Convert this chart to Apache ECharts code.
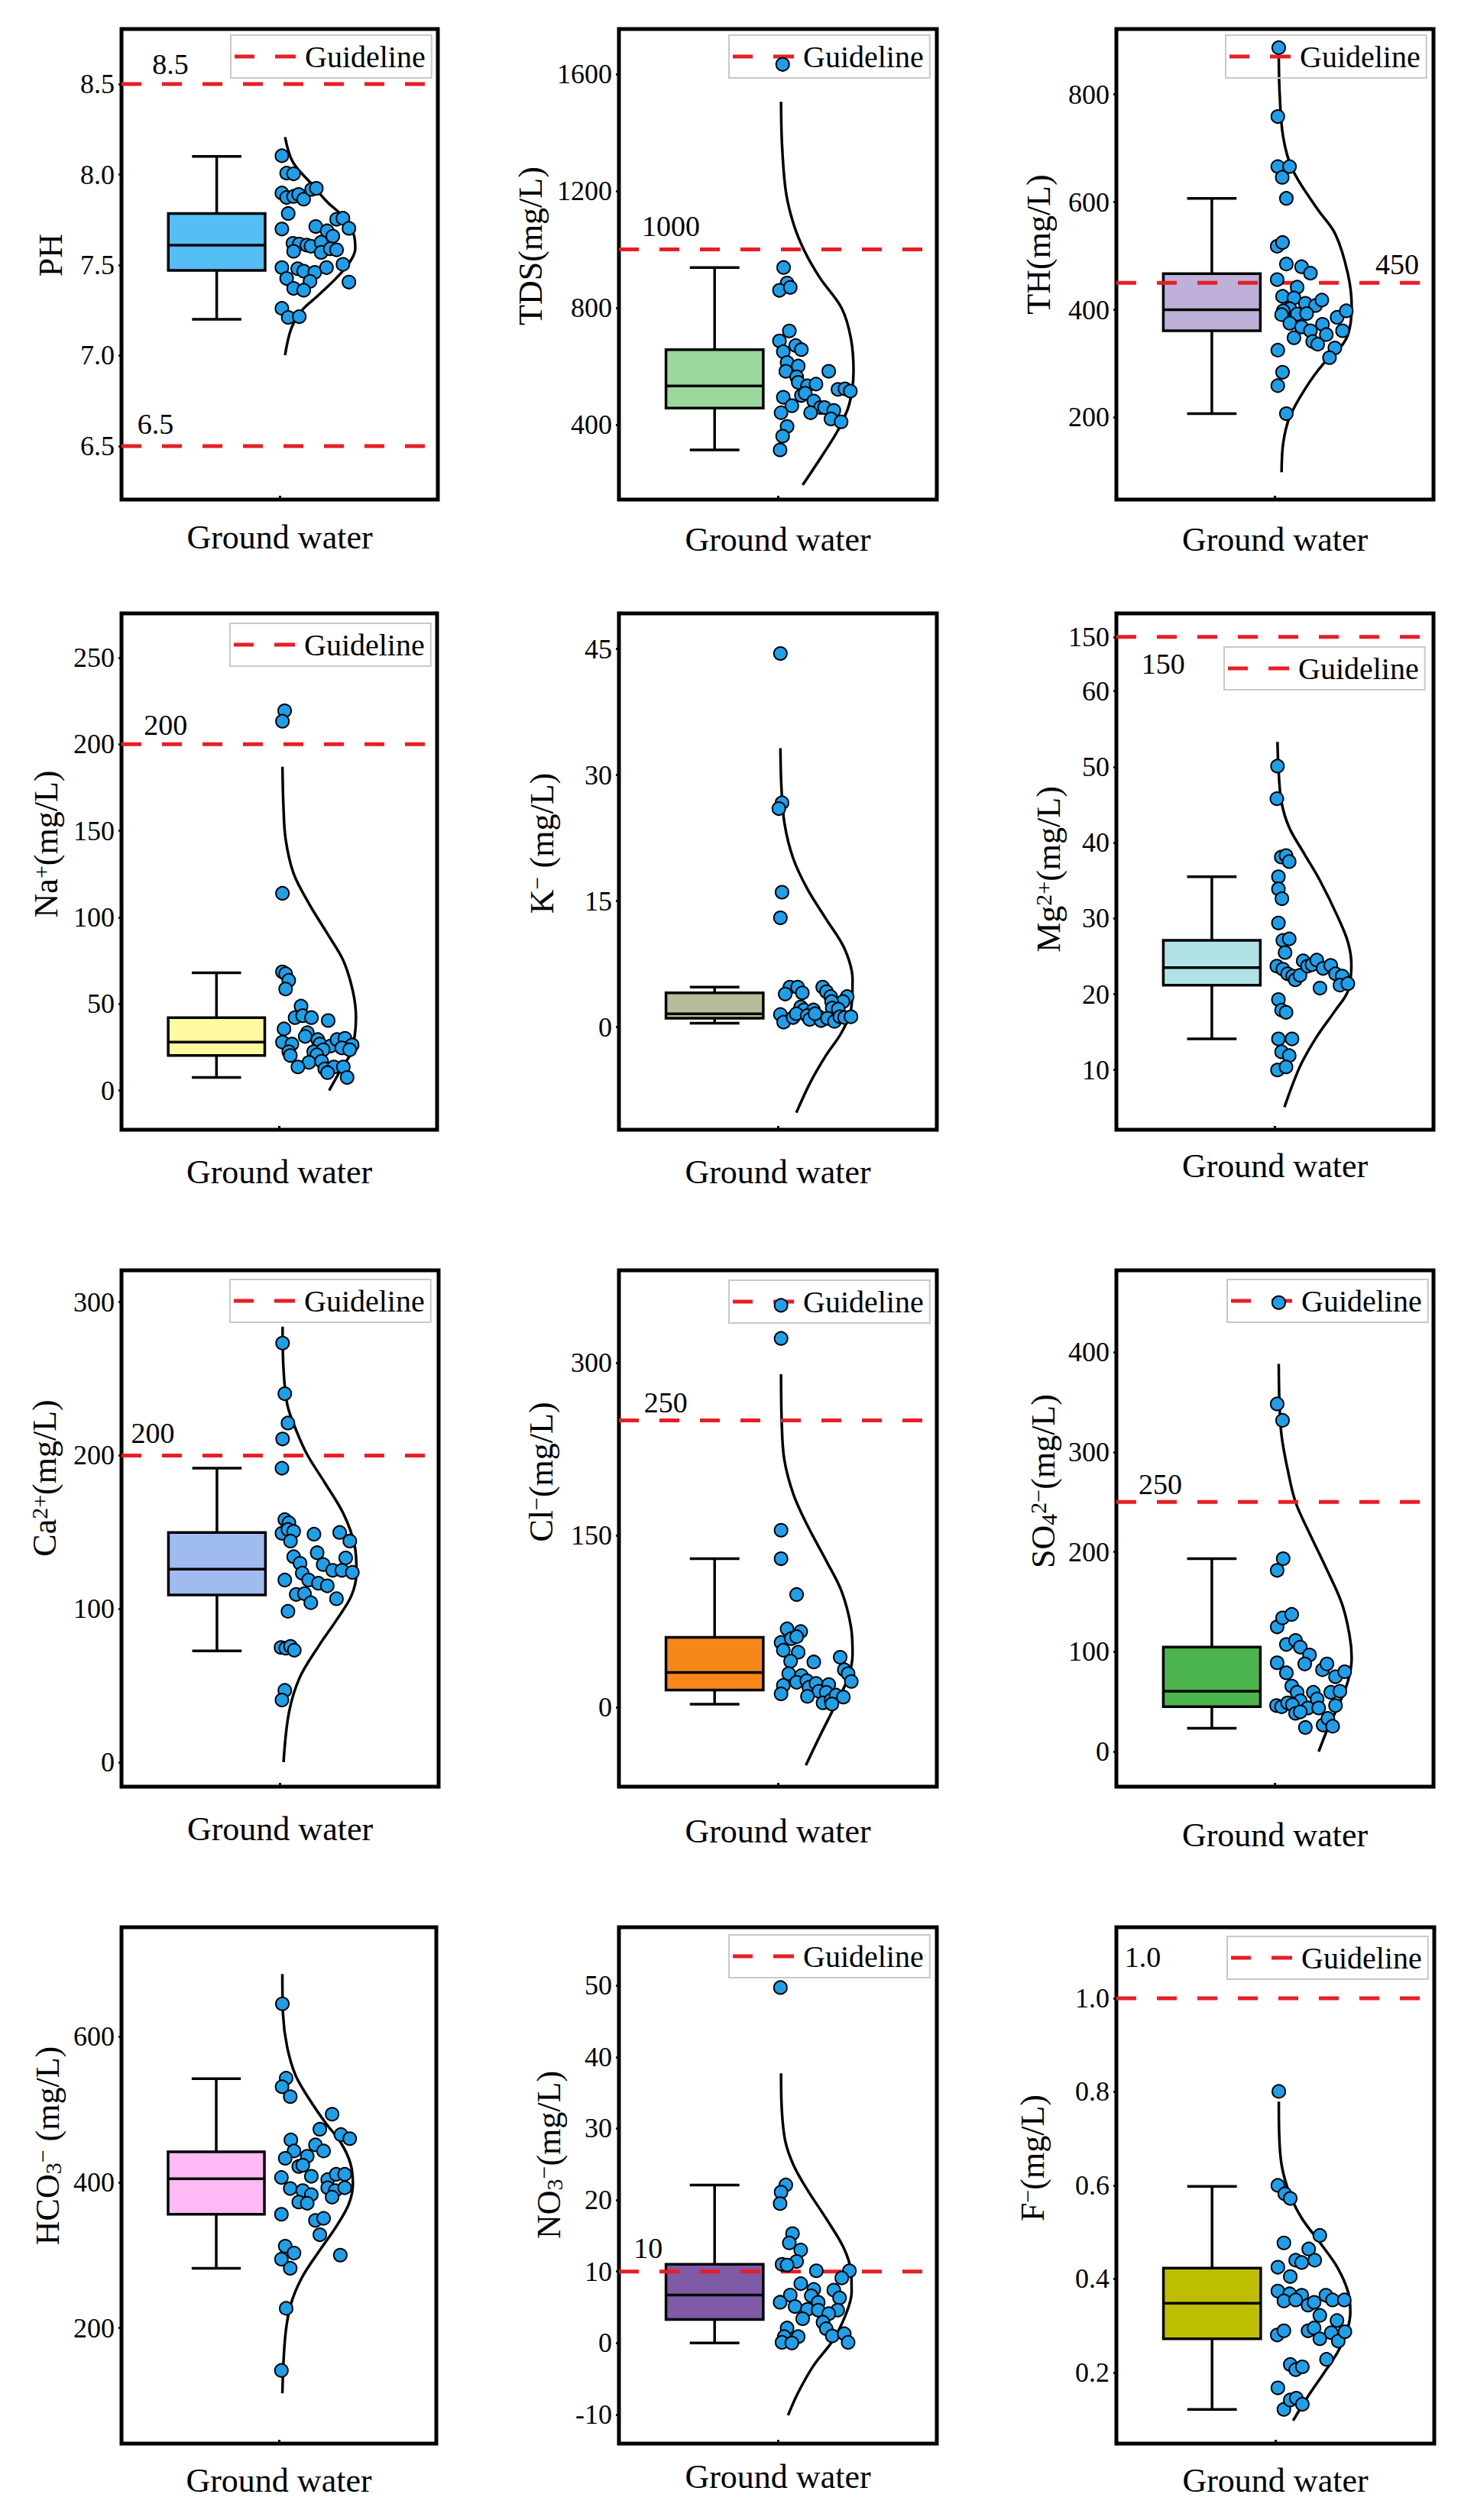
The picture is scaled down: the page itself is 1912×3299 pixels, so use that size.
<!DOCTYPE html>
<html><head><meta charset="utf-8">
<script src="https://cdn.jsdelivr.net/npm/echarts@6/dist/echarts.min.js"></script>
<style>html,body{margin:0;padding:0;background:#fff}#c{width:1912px;height:3299px}</style>
</head><body><div id="c"></div>
<script>
// ---------- DATA ----------
// box: [lower whisker, Q1, median, Q3, upper whisker]; points: [jitter, value]; curve: [width, value]
const phBox = [7.2, 7.47, 7.61, 7.785, 8.1];
const phTicks = [6.5, 7.0, 7.5, 8.0, 8.5];
const phGuide = [8.5, 6.5];
const phPoints = [[0.507,8.104],[0.522,8.008],[0.544,8.004],[0.507,7.898],[0.522,7.873],[0.544,7.879],[0.56,7.89],[0.576,7.864],[0.601,7.918],[0.616,7.924],[0.527,7.785],[0.507,7.699],[0.614,7.713],[0.65,7.689],[0.668,7.659],[0.68,7.753],[0.7,7.759],[0.719,7.703],[0.542,7.62],[0.562,7.616],[0.586,7.61],[0.599,7.604],[0.631,7.626],[0.631,7.57],[0.544,7.576],[0.66,7.59],[0.68,7.584],[0.507,7.486],[0.557,7.48],[0.576,7.466],[0.611,7.46],[0.648,7.486],[0.7,7.504],[0.522,7.426],[0.596,7.41],[0.719,7.406],[0.544,7.371],[0.576,7.361],[0.507,7.261],[0.527,7.211],[0.562,7.215]];
const phCurve = [[0.517,8.207],[0.542,8.068],[0.601,7.948],[0.65,7.849],[0.7,7.769],[0.734,7.67],[0.739,7.59],[0.719,7.51],[0.68,7.43],[0.621,7.331],[0.571,7.251],[0.537,7.151],[0.517,7.002]];

const tdsBox = [314, 457, 533, 657, 938];
const tdsTicks = [400, 800, 1200, 1600];
const tdsGuide = [1000];
const tdsPoints = [[0.515,1633],[0.518,938],[0.529,885],[0.505,860],[0.539,870],[0.536,721],[0.505,687],[0.556,671],[0.574,657],[0.517,650],[0.529,613],[0.564,601],[0.525,583],[0.66,583],[0.559,564],[0.564,545],[0.593,533],[0.62,539],[0.574,500],[0.586,508],[0.517,494],[0.544,465],[0.613,481],[0.634,459],[0.647,459],[0.603,441],[0.51,441],[0.676,449],[0.667,420],[0.699,410],[0.529,394],[0.515,361],[0.507,314],[0.689,521],[0.711,523],[0.728,515]];
const tdsCurve = [[0.51,1505],[0.513,1360],[0.525,1199],[0.549,1088],[0.583,996],[0.632,903],[0.701,798],[0.73,694],[0.738,583],[0.725,472],[0.691,385],[0.642,299],[0.578,194]];

const thBox = [207, 361, 400, 467, 607];
const thTicks = [200, 400, 600, 800];
const thGuide = [450];
const thPoints = [[0.512,887],[0.509,759],[0.509,666],[0.546,666],[0.523,646],[0.536,607],[0.507,518],[0.524,525],[0.536,485],[0.584,480],[0.612,468],[0.507,456],[0.57,442],[0.524,425],[0.56,422],[0.596,412],[0.628,408],[0.648,418],[0.547,402],[0.526,398],[0.521,391],[0.57,392],[0.6,393],[0.696,386],[0.725,398],[0.547,375],[0.584,368],[0.612,361],[0.65,373],[0.662,354],[0.713,361],[0.56,348],[0.619,341],[0.635,336],[0.689,329],[0.672,311],[0.509,325],[0.524,284],[0.509,259],[0.536,207]];
const thCurve = [[0.512,875],[0.515,800],[0.526,721],[0.555,661],[0.633,588],[0.691,540],[0.73,467],[0.742,406],[0.73,353],[0.691,319],[0.652,299],[0.594,252],[0.546,200],[0.526,152],[0.521,98]];

const naBox = [7.5, 20.2, 27.9, 42.1, 68];
const naTicks = [0, 50, 100, 150, 200, 250];
const naGuide = [200];
const naPoints = [[0.517,219.3],[0.51,213.3],[0.51,113.9],[0.51,68.5],[0.52,67.4],[0.53,63.6],[0.52,58.6],[0.569,48.7],[0.55,42.1],[0.574,43.2],[0.602,42.1],[0.655,40.4],[0.515,35.6],[0.589,33.4],[0.582,31.2],[0.51,27.9],[0.54,26.8],[0.622,29.4],[0.629,26.8],[0.663,25.7],[0.683,29.4],[0.708,30.1],[0.731,26.3],[0.53,22.4],[0.609,22.4],[0.639,23.5],[0.698,24.6],[0.723,23.5],[0.535,20.2],[0.619,20.6],[0.594,16.2],[0.634,16.9],[0.559,13.6],[0.644,12.5],[0.673,13.6],[0.653,10.3],[0.703,13.6],[0.715,7.5]];
const naCurve = [[0.51,187],[0.513,165],[0.52,145.3],[0.545,125.5],[0.594,108],[0.653,90.4],[0.703,75],[0.733,57.5],[0.743,42.1],[0.728,22.4],[0.693,11.4],[0.658,0]];

const kBox = [0.45, 1.04, 1.58, 4.07, 4.75];
const kTicks = [0, 15, 30, 45];
const kGuide = [];
const kPoints = [[0.508,44.46],[0.513,26.7],[0.503,26.0],[0.513,16.05],[0.508,13.0],[0.538,4.75],[0.562,4.75],[0.641,4.75],[0.523,3.93],[0.577,4.07],[0.653,4.2],[0.666,3.62],[0.718,3.62],[0.705,3.03],[0.669,3.03],[0.572,2.39],[0.582,2.03],[0.612,2.03],[0.671,2.26],[0.69,2.12],[0.508,1.49],[0.518,0.58],[0.548,1.13],[0.558,1.58],[0.592,1.35],[0.6,0.9],[0.629,1.22],[0.636,0.77],[0.656,1.04],[0.678,0.67],[0.695,1.22],[0.71,1.13],[0.73,1.22],[0.617,1.58]];
const kCurve = [[0.508,33.2],[0.511,28.7],[0.521,24.2],[0.548,20.1],[0.592,16.5],[0.651,12.9],[0.71,9.3],[0.735,5.65],[0.73,2.03],[0.7,-0.68],[0.651,-3.4],[0.602,-6.6],[0.558,-10.2]];

const mgBox = [14.1, 21.2, 23.5, 27.1, 35.5];
const mgTicks = [10, 20, 30, 40, 50, 60, 150];
const mgGuide = [150];
const mgPoints = [[0.508,50.1],[0.506,45.8],[0.52,38.1],[0.535,38.3],[0.545,37.5],[0.511,35.5],[0.511,33.9],[0.522,32.6],[0.511,29.4],[0.525,27.1],[0.545,27.3],[0.532,25.5],[0.506,23.7],[0.525,23.3],[0.54,22.7],[0.556,22.4],[0.564,21.9],[0.579,22.5],[0.589,24.4],[0.603,23.7],[0.617,23.9],[0.632,24.5],[0.652,23.4],[0.676,23.8],[0.691,22.7],[0.712,22.4],[0.705,21.2],[0.73,21.4],[0.642,20.8],[0.511,19.3],[0.521,17.9],[0.535,17.6],[0.511,14.1],[0.554,14.1],[0.521,12.4],[0.545,11.9],[0.508,10.0],[0.535,10.4]];
const mgCurve = [[0.508,53.3],[0.511,50],[0.52,45.5],[0.545,42],[0.593,38.5],[0.642,35],[0.696,30.4],[0.73,26.9],[0.741,23.9],[0.73,20.4],[0.691,17.9],[0.632,14.4],[0.584,10.9],[0.554,7.9],[0.53,5.1]];

const caBox = [72.5, 109.1, 125.9, 149.8, 191.7];
const caTicks = [0, 100, 200, 300];
const caGuide = [200];
const caPoints = [[0.508,273.3],[0.515,240.3],[0.525,221.2],[0.508,210.8],[0.506,191.7],[0.515,158.2],[0.528,156.1],[0.506,149.3],[0.525,151.8],[0.543,150.5],[0.607,148.7],[0.688,149.8],[0.533,144.2],[0.72,144.2],[0.543,134],[0.617,136.6],[0.707,133.2],[0.563,129.7],[0.636,128.9],[0.666,125.1],[0.695,125.1],[0.728,123.8],[0.57,123.3],[0.515,118.8],[0.59,118.8],[0.621,116.7],[0.649,115],[0.551,109.4],[0.577,109.9],[0.597,104],[0.678,106.6],[0.525,98.4],[0.503,74.8],[0.518,74.3],[0.533,75.5],[0.545,73],[0.515,46.8],[0.506,40.5]];
const caCurve = [[0.508,284],[0.511,256],[0.523,233.1],[0.553,215.4],[0.587,200.1],[0.641,182.3],[0.7,162],[0.735,141.6],[0.741,123.8],[0.725,108.6],[0.68,93.3],[0.621,75.5],[0.562,55.2],[0.528,32.3],[0.511,0]];

const clBox = [3, 15.2, 30.5, 61.1, 129.6];
const clTicks = [0, 150, 300];
const clGuide = [250];
const clPoints = [[0.51,350.2],[0.51,321.4],[0.51,154.4],[0.51,129.6],[0.559,98.4],[0.529,68.5],[0.572,66.2],[0.51,56.7],[0.542,60],[0.559,61.7],[0.517,49.9],[0.564,48.2],[0.54,40.4],[0.613,39.7],[0.696,43.8],[0.709,32.9],[0.721,29.5],[0.534,29.5],[0.574,27.8],[0.559,22],[0.591,23.4],[0.731,22.7],[0.517,19.3],[0.598,17.6],[0.62,21],[0.629,14.2],[0.66,20],[0.652,13.2],[0.51,11.9],[0.593,9.8],[0.642,4.1],[0.667,6.4],[0.683,10.8],[0.706,9.1],[0.67,3.1]];
const clCurve = [[0.51,290.2],[0.512,249.4],[0.52,216.2],[0.549,185.6],[0.593,158.5],[0.652,127.9],[0.701,100.8],[0.73,70.2],[0.735,46.5],[0.721,26.1],[0.681,2.3],[0.632,-24.8],[0.588,-50.3]];

const so4Box = [23.5, 45, 60.5, 104.6, 193.2];
const so4Ticks = [0, 100, 200, 300, 400];
const so4Guide = [250];
const so4Points = [[0.512,449.6],[0.507,348.1],[0.524,331.7],[0.507,181.5],[0.526,193.2],[0.507,124.9],[0.524,133.9],[0.553,137.4],[0.536,107.3],[0.565,111.3],[0.58,104.6],[0.609,96.8],[0.594,87.8],[0.507,89],[0.65,82],[0.664,87.8],[0.536,78.9],[0.691,75],[0.72,80],[0.553,65.6],[0.57,59.4],[0.621,59.4],[0.676,59.4],[0.705,60.5],[0.633,52.7],[0.58,50.8],[0.505,46.1],[0.521,44.9],[0.54,48.8],[0.555,46.9],[0.604,43.7],[0.638,43.7],[0.691,46.1],[0.565,38.3],[0.58,39.8],[0.652,26.6],[0.667,33.2],[0.682,25.4],[0.596,24.2]];
const so4Curve = [[0.512,388.3],[0.514,351.2],[0.521,316.1],[0.541,281],[0.565,249.8],[0.609,218.6],[0.662,183.4],[0.711,148.3],[0.735,117.1],[0.742,93.7],[0.73,70.3],[0.696,43],[0.672,27.4],[0.638,0]];

const hco3Box = [281.9, 356, 404.8, 441.8, 542.2];
const hco3Ticks = [200, 400, 600];
const hco3Guide = [];
const hco3Points = [[0.511,644.9],[0.523,542.8],[0.51,531],[0.536,517.5],[0.669,493.4],[0.63,472.7],[0.697,465.4],[0.725,459.8],[0.538,458.1],[0.616,451.3],[0.642,442.9],[0.548,442.9],[0.52,432.8],[0.59,435.6],[0.563,421.6],[0.576,423.3],[0.603,408.1],[0.508,406.5],[0.655,403.6],[0.682,410.9],[0.709,410.9],[0.536,391.3],[0.576,388.5],[0.655,392.4],[0.679,388.5],[0.709,392.4],[0.603,382.9],[0.563,372.8],[0.59,371.1],[0.669,379.5],[0.508,356],[0.616,347.6],[0.642,350.4],[0.63,327.9],[0.52,312.2],[0.548,302.7],[0.508,294.3],[0.536,281.9],[0.695,299.9],[0.523,226.9],[0.508,141.7]];
const hco3Curve = [[0.511,685.8],[0.513,630.9],[0.526,586],[0.553,546.7],[0.598,513],[0.647,482.2],[0.697,454.1],[0.727,426.1],[0.735,398],[0.722,370],[0.682,339.1],[0.628,305.5],[0.573,269],[0.538,232.5],[0.52,187.7],[0.511,110.3]];

const no3Box = [0, 3.3, 6.7, 11, 22.1];
const no3Ticks = [-10, 0, 10, 20, 30, 40, 50];
const no3Guide = [10];
const no3Points = [[0.508,49.7],[0.525,22.1],[0.51,21.1],[0.507,19.5],[0.546,15.3],[0.536,14],[0.572,13],[0.559,11.4],[0.513,11],[0.529,10.9],[0.621,10.1],[0.725,10.1],[0.701,9.1],[0.572,8.3],[0.613,7.5],[0.676,7.4],[0.539,6.7],[0.605,6.6],[0.694,6.3],[0.507,5.7],[0.627,5.7],[0.554,5.1],[0.593,4.7],[0.627,4.6],[0.688,4.6],[0.66,4.1],[0.578,3.4],[0.642,2.9],[0.652,2],[0.529,2.1],[0.52,0.9],[0.564,0.9],[0.671,1],[0.709,1.3],[0.513,0.1],[0.544,0],[0.721,0.1]];
const no3Curve = [[0.51,37.7],[0.512,32.9],[0.523,28.3],[0.549,24.9],[0.593,21.4],[0.652,17.4],[0.706,13.4],[0.73,10],[0.732,7.1],[0.711,3.7],[0.672,0.3],[0.613,-3.1],[0.564,-6.9],[0.532,-10.1]];

const fBox = [0.121, 0.272, 0.348, 0.423, 0.598];
const fTicks = [0.2, 0.4, 0.6, 0.8, 1.0];
const fGuide = [1.0];
const fPoints = [[0.511,0.801],[0.508,0.6],[0.53,0.582],[0.547,0.572],[0.64,0.493],[0.527,0.477],[0.605,0.464],[0.564,0.44],[0.583,0.435],[0.624,0.44],[0.508,0.425],[0.547,0.405],[0.508,0.374],[0.545,0.368],[0.583,0.365],[0.527,0.353],[0.564,0.355],[0.603,0.344],[0.622,0.35],[0.659,0.365],[0.68,0.355],[0.717,0.355],[0.64,0.322],[0.694,0.311],[0.506,0.28],[0.527,0.289],[0.603,0.289],[0.622,0.295],[0.64,0.272],[0.676,0.285],[0.698,0.267],[0.719,0.287],[0.661,0.228],[0.547,0.217],[0.564,0.206],[0.585,0.212],[0.508,0.167],[0.527,0.121],[0.547,0.141],[0.566,0.145],[0.585,0.132]];
const fCurve = [[0.511,0.779],[0.512,0.713],[0.52,0.643],[0.545,0.582],[0.583,0.53],[0.641,0.477],[0.695,0.425],[0.729,0.372],[0.736,0.329],[0.724,0.285],[0.695,0.242],[0.651,0.197],[0.603,0.149],[0.556,0.097]];

const categoryLabel = 'Ground water';
const legendLabel = 'Guideline';

// ---------- STYLE / LAYOUT ----------
const FONT = "Liberation Serif, Times New Roman, serif";
const RED = '#E81E25', DOT = '#1E9FEA';
const BOX_C = 0.301, BOX_HALF = 0.153, CAP_HALF = 0.078;
const DASH = [26, 27];
const LEGEND_ICON = 'path://M0,0H26V5H0Z M53,0H80V5H53Z';
const RICH = {
  n: {fontFamily: FONT, fontSize: 44, color: '#000'},
  sup: {fontFamily: FONT, fontSize: 30, color: '#000', verticalAlign: 'top'},
  sub: {fontFamily: FONT, fontSize: 30, color: '#000', verticalAlign: 'bottom'}
};

const panels = [
  {title:'{n|PH}', box:phBox, pts:phPoints, curve:phCurve, ticks:phTicks, guide:phGuide, color:'#55BEF5', min:6.2045, max:8.804, dec:1,
   grid:[159,38,414,616], nameGap:93, shift:12, xMargin:27, legend:[302,46], ann:[{x:0.097,dy:-26},{x:0.05,dy:-29}]},
  {title:'{n|TDS(mg/L)}', box:tdsBox, pts:tdsPoints, curve:tdsCurve, ticks:tdsTicks, guide:tdsGuide, color:'#9BD89B', min:144, max:1754, dec:0,
   grid:[810,38,416,616], nameGap:116, shift:24, xMargin:30, legend:[954,46], ann:[{x:0.072,dy:-30}]},
  {title:'{n|TH(mg/L)}', box:thBox, pts:thPoints, curve:thCurve, ticks:thTicks, guide:thGuide, color:'#BEB0D8', min:47.4, max:921.6, dec:0,
   grid:[1461,38,415,616], nameGap:102, shift:26, xMargin:30, legend:[1604,46], ann:[{x:0.817,dy:-24}]},
  {title:'{n|Na}{sup|+}{n|(mg/L)}', box:naBox, pts:naPoints, curve:naCurve, ticks:naTicks, guide:naGuide, color:'#FFFAA0', min:-22.7, max:275.6, dec:0,
   grid:[159,803,413,676], nameGap:99, shift:36, xMargin:33, legend:[301,816], ann:[{x:0.071,dy:-25}]},
  {title:'{n|K}{sup|−}{n| (mg/L)}', box:kBox, pts:kPoints, curve:kCurve, ticks:kTicks, guide:kGuide, color:'#B8BC98', min:-12.23, max:49.24, dec:0,
   grid:[810,803,416,676], nameGap:101, shift:37, xMargin:33, legend:null, ann:[]},
  {title:'{n|Mg}{sup|2+}{n|(mg/L)}', box:mgBox, pts:mgPoints, curve:mgCurve, ticks:mgTicks, guide:mgGuide, color:'#B0E2E6', min:2.11, max:153.1, dec:0,
   grid:[1461,803,415,676], nameGap:89, shift:3, xMargin:25, legend:[1602,847], ann:[{x:0.079,dy:35}],
   breaks:[{start:61, end:148, gap:'6.1%'}]},
  {title:'{n|Ca}{sup|2+}{n|(mg/L)}', box:caBox, pts:caPoints, curve:caCurve, ticks:caTicks, guide:caGuide, color:'#A0BBF0', min:-16, max:320.8, dec:0,
   grid:[159,1663,415,676], nameGap:101, shift:66, xMargin:33, legend:[301,1675], ann:[{x:0.03,dy:-29}]},
  {title:'{n|Cl}{sup|−}{n|(mg/L)}', box:clBox, pts:clPoints, curve:clCurve, ticks:clTicks, guide:clGuide, color:'#F88719', min:-68.9, max:380.7, dec:0,
   grid:[810,1663,416,676], nameGap:102, shift:74, xMargin:36, legend:[954,1676], ann:[{x:0.079,dy:-24}]},
  {title:'{n|SO}{sub|4}{sup|2−}{n|(mg/L)}', box:so4Box, pts:so4Points, curve:so4Curve, ticks:so4Ticks, guide:so4Guide, color:'#4CB44C', min:-35.1, max:481.9, dec:0,
   grid:[1461,1663,415,676], nameGap:96, shift:62, xMargin:41, legend:[1606,1675], ann:[{x:0.07,dy:-23}]},
  {title:'{n|HCO}{sub|3}{sup|−}{n| (mg/L)}', box:hco3Box, pts:hco3Points, curve:hco3Curve, ticks:hco3Ticks, guide:hco3Guide, color:'#FFB9F5', min:41.2, max:750, dec:0,
   grid:[159,2523,412,676], nameGap:97, shift:52, xMargin:26, legend:null, ann:[]},
  {title:'{n|NO}{sub|3}{sup|−}{n|(mg/L)}', box:no3Box, pts:no3Points, curve:no3Curve, ticks:no3Ticks, guide:no3Guide, color:'#7F5AA6', min:-14.06, max:58.13, dec:0,
   grid:[810,2523,416,676], nameGap:92, shift:40, xMargin:21, legend:[954,2533], ann:[{x:0.0465,dy:-31}]},
  {title:'{n|F}{sup|−}{n|(mg/L)}', box:fBox, pts:fPoints, curve:fCurve, ticks:fTicks, guide:fGuide, color:'#BEBE00', min:0.0478, max:1.152, dec:1,
   grid:[1461,2523,416,676], nameGap:110, shift:36, xMargin:26, legend:[1606,2535], ann:[{x:0.026,dy:-54}]}
];

function makeBoxRender(color) {
  return function (params, api) {
    const c = api.value(0), lo = api.value(1), q1 = api.value(2), md = api.value(3), q3 = api.value(4), hi = api.value(5);
    const tl = api.coord([c - BOX_HALF, q3]);
    const br = api.coord([c + BOX_HALF, q1]);
    const cx = api.coord([c, md])[0];
    const yMd = api.coord([c, md])[1];
    const yLo = api.coord([c, lo])[1];
    const yHi = api.coord([c, hi])[1];
    const cl = api.coord([c - CAP_HALF, md])[0];
    const cr = api.coord([c + CAP_HALF, md])[0];
    const ls = {stroke: '#000', lineWidth: 3.5};
    return {type: 'group', children: [
      {type: 'line', shape: {x1: cx, y1: tl[1], x2: cx, y2: yHi}, style: ls},
      {type: 'line', shape: {x1: cx, y1: br[1], x2: cx, y2: yLo}, style: ls},
      {type: 'line', shape: {x1: cl, y1: yHi, x2: cr, y2: yHi}, style: ls},
      {type: 'line', shape: {x1: cl, y1: yLo, x2: cr, y2: yLo}, style: ls},
      {type: 'rect', shape: {x: tl[0], y: tl[1], width: br[0] - tl[0], height: br[1] - tl[1]}, style: {fill: color, stroke: '#000', lineWidth: 3.5}},
      {type: 'line', shape: {x1: tl[0], y1: yMd, x2: br[0], y2: yMd}, style: ls}
    ]};
  };
}

const option = {animation: false, backgroundColor: '#fff', textStyle: {fontFamily: FONT}, grid: [], xAxis: [], yAxis: [], series: [], legend: []};

panels.forEach((p, i) => {
  option.grid.push({left: p.grid[0], top: p.grid[1], width: p.grid[2], height: p.grid[3], show: true,
    borderColor: '#000', borderWidth: 5, backgroundColor: 'rgba(0,0,0,0)', containLabel: false});
  option.xAxis.push({type: 'value', gridIndex: i, min: 0, max: 1,
    axisLine: {show: false, onZero: false}, splitLine: {show: false},
    axisTick: {show: true, inside: true, length: 5, customValues: [0.5], lineStyle: {color: '#000', width: 3}},
    axisLabel: {show: true, customValues: [0.5], formatter: () => categoryLabel, margin: p.xMargin,
      fontFamily: FONT, fontSize: 44, color: '#000'}});
  const y = {type: 'value', gridIndex: i, min: p.min, max: p.max,
    axisLine: {show: false, onZero: false}, splitLine: {show: false},
    axisTick: {show: true, inside: false, length: 4, customValues: p.ticks, lineStyle: {color: '#000', width: 2.5}},
    axisLabel: {customValues: p.ticks, formatter: v => p.dec ? Number(v).toFixed(p.dec) : String(Math.round(v)),
      margin: 9, fontFamily: FONT, fontSize: 36, color: '#000'},
    name: p.title, nameLocation: 'middle', nameGap: p.nameGap, nameRotate: 90,
    nameTextStyle: {fontFamily: FONT, fontSize: 44, color: '#000', align: 'center', verticalAlign: 'middle',
      padding: [0, 0, 0, 2 * p.shift], rich: RICH}};
  if (p.breaks) {
    y.breaks = p.breaks;
    y.breakArea = {show: false};
  }
  option.yAxis.push(y);

  // box plot
  option.series.push({type: 'custom', xAxisIndex: i, yAxisIndex: i, silent: true, z: 2,
    data: [[BOX_C].concat(p.box)], encode: {x: 0, y: [1, 2, 3, 4, 5]}, renderItem: makeBoxRender(p.color)});
  // distribution curve
  option.series.push({type: 'line', xAxisIndex: i, yAxisIndex: i, silent: true, z: 3, data: p.curve,
    smooth: 0.35, symbol: 'none', lineStyle: {color: '#000', width: 3.5}});
  // guidelines
  p.guide.forEach(v => {
    option.series.push({type: 'line', name: legendLabel, xAxisIndex: i, yAxisIndex: i, silent: true, z: 4,
      data: [[0, v], [1, v]], symbol: 'none', itemStyle: {color: RED},
      lineStyle: {color: RED, width: 5, type: DASH}});
  });
  if (p.guide.length) {
    option.series.push({type: 'custom', xAxisIndex: i, yAxisIndex: i, silent: true, z: 4,
      data: p.guide.map((v, k) => [p.ann[k].x, v]), encode: {x: 0, y: 1},
      renderItem: (params, api) => {
        const pt = api.coord([api.value(0), api.value(1)]);
        const v = api.value(1);
        return {type: 'text', x: pt[0], y: pt[1] + p.ann[params.dataIndex].dy,
          style: {text: p.dec ? v.toFixed(p.dec) : String(v), fontFamily: FONT, fontSize: 38, fill: '#000',
            align: 'left', verticalAlign: 'middle'}};
      }});
  }
  // data points
  option.series.push({type: 'scatter', xAxisIndex: i, yAxisIndex: i, silent: true, z: 6, data: p.pts,
    symbolSize: 17, itemStyle: {color: DOT, borderColor: '#000', borderWidth: 2, opacity: 1}});
  if (p.legend) {
    option.legend.push({data: [{name: legendLabel, icon: LEGEND_ICON}], left: p.legend[0], top: p.legend[1], z: 4,
      itemWidth: 80, itemHeight: 5, padding: [8, 8, 8, 5], borderColor: '#c8c8c8', borderWidth: 2,
      backgroundColor: 'rgba(0,0,0,0)', selectedMode: false,
      itemStyle: {color: RED, borderWidth: 0}, lineStyle: {width: 0},
      textStyle: {fontFamily: FONT, fontSize: 40, color: '#000', padding: [0, 0, 0, 7]}});
  }
});

const chart = echarts.init(document.getElementById('c'), null, {renderer: 'svg', width: 1912, height: 3299});
chart.setOption(option);
</script></body></html>
